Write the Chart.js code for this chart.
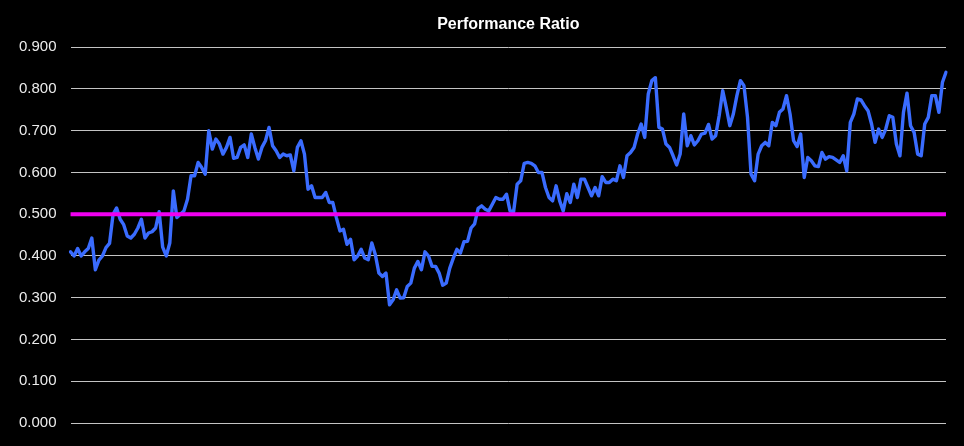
<!DOCTYPE html>
<html>
<head>
<meta charset="utf-8">
<script src="https://cdn.jsdelivr.net/npm/chart.js@4.4.0/dist/chart.umd.min.js"></script>
<style>
  html, body { margin: 0; padding: 0; background: #000; }
  canvas { display: block; }
</style>
</head>
<body>
<canvas id="prChart" width="964" height="446"></canvas>
<script>
// performance ratio, left to right
const ratioValues = [
  0.41, 0.40, 0.418, 0.40, 0.41, 0.418, 0.443, 0.367, 0.39, 0.40,
  0.42, 0.43, 0.50, 0.515, 0.488, 0.475, 0.448, 0.443, 0.452, 0.467,
  0.488, 0.443, 0.455, 0.458, 0.467, 0.506, 0.421, 0.40, 0.431, 0.556,
  0.492, 0.50, 0.508, 0.536, 0.592, 0.592, 0.624, 0.612, 0.596, 0.70,
  0.656, 0.68, 0.668, 0.644, 0.66, 0.684, 0.634, 0.636, 0.66, 0.666,
  0.636, 0.692, 0.66, 0.632, 0.66, 0.676, 0.708, 0.664, 0.652, 0.636,
  0.644, 0.64, 0.642, 0.604, 0.66, 0.676, 0.644, 0.56, 0.568, 0.54,
  0.54, 0.54, 0.552, 0.528, 0.528, 0.492, 0.46, 0.464, 0.428, 0.44,
  0.391, 0.40, 0.416, 0.395, 0.391, 0.431, 0.403, 0.359, 0.351, 0.359,
  0.283, 0.295, 0.319, 0.299, 0.30, 0.327, 0.335, 0.371, 0.387, 0.367,
  0.41, 0.40, 0.375, 0.375, 0.359, 0.33, 0.335, 0.371, 0.395, 0.416,
  0.407, 0.434, 0.435, 0.467, 0.477, 0.514, 0.52, 0.512, 0.508, 0.524,
  0.54, 0.536, 0.536, 0.548, 0.508, 0.506, 0.572, 0.58, 0.622, 0.624,
  0.622, 0.616, 0.60, 0.60, 0.564, 0.54, 0.532, 0.568, 0.532, 0.508,
  0.549, 0.528, 0.572, 0.54, 0.584, 0.584, 0.564, 0.544, 0.564, 0.544,
  0.59, 0.576, 0.576, 0.584, 0.58, 0.616, 0.588, 0.64,
  0.648, 0.66, 0.692, 0.716, 0.684, 0.788, 0.82, 0.827, 0.708, 0.704,
  0.668, 0.66, 0.64, 0.618, 0.644, 0.74, 0.664, 0.688, 0.666, 0.676,
  0.692, 0.694, 0.715, 0.68, 0.688, 0.736, 0.796, 0.756, 0.712, 0.74,
  0.784, 0.82, 0.808, 0.732, 0.596, 0.58, 0.644, 0.664, 0.672, 0.664,
  0.72, 0.712, 0.744, 0.752, 0.784, 0.74, 0.676, 0.662, 0.692, 0.588,
  0.636, 0.628, 0.616, 0.614, 0.648, 0.632, 0.638, 0.636, 0.63, 0.624,
  0.64, 0.604, 0.72, 0.74, 0.776, 0.774, 0.76, 0.748, 0.716, 0.672,
  0.704, 0.684, 0.704, 0.736, 0.732, 0.668, 0.64, 0.744, 0.79, 0.712,
  0.696, 0.644, 0.64, 0.716, 0.732, 0.784, 0.784, 0.744, 0.816, 0.84
];
const targetRatio = 0.5;
const yTicks = { min: 0, max: 0.9, step: 0.1 };

// no x labels are shown, so the categories are just the sample numbers
const categories = ratioValues.map(function (v, i) { return String(i + 1); });
const targetValues = categories.map(function () { return targetRatio; });

const ctx = document.getElementById('prChart').getContext('2d');

const blackBg = {
  id: 'blackBg',
  beforeDraw: function (chart) {
    const c = chart.ctx;
    c.save();
    c.fillStyle = '#000';
    c.fillRect(0, 0, chart.width, chart.height);
    c.restore();
  }
};

const chart = new Chart(ctx, {
  type: 'line',
  data: {
    labels: categories,
    datasets: [{
      label: 'Target',
      data: targetValues,
      borderColor: '#f000f0',
      borderWidth: 4,
      pointRadius: 0,
      tension: 0,
      order: 0
    },
    {
      label: 'Performance Ratio',
      data: ratioValues,
      borderColor: '#3a6cff',
      borderWidth: 3.4,
      borderJoinStyle: 'round',
      borderCapStyle: 'round',
      pointRadius: 0,
      tension: 0,
      order: 1
    }]
  },
  options: {
    responsive: false,
    animation: false,
    layout: { padding: { left: 5, right: 18, top: 0, bottom: 19 } },
    plugins: {
      legend: { display: false },
      tooltip: { enabled: false },
      title: {
        display: true,
        text: 'Performance Ratio',
        color: '#ffffff',
        fullSize: false,
        font: { family: 'Liberation Sans, Arial, sans-serif', size: 16, weight: 'bold' },
        padding: { top: 15, bottom: 13 }
      }
    },
    scales: {
      x: { display: false },
      y: {
        min: yTicks.min,
        max: yTicks.max,
        border: { display: false },
        grid: { color: '#c4c4c4', lineWidth: 1, drawTicks: false },
        ticks: {
          stepSize: yTicks.step,
          padding: 14,
          color: '#ececec',
          font: { family: 'Liberation Sans, Arial, sans-serif', size: 15 },
          callback: function (value) { return value.toFixed(3); }
        }
      }
    }
  },
  plugins: [blackBg]
});
</script>
</body>
</html>
